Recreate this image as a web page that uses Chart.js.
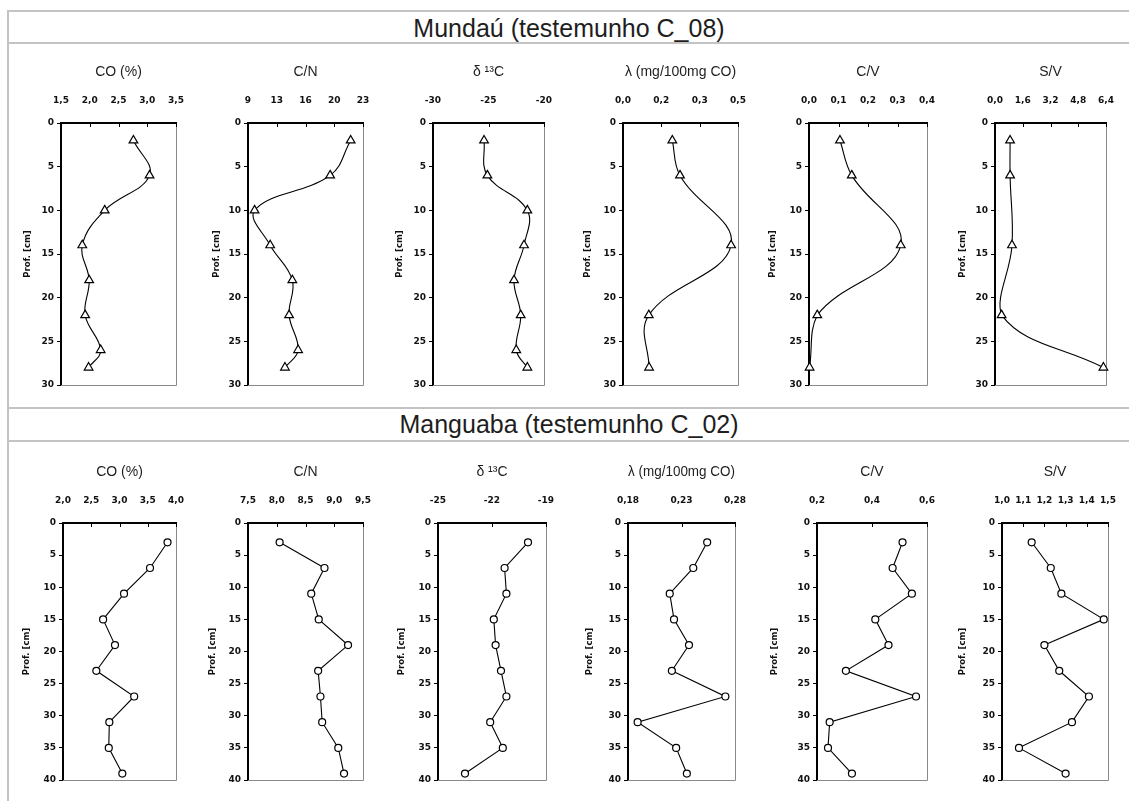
<!DOCTYPE html>
<html>
<head>
<meta charset="utf-8">
<script src="https://cdn.jsdelivr.net/npm/chart.js@4.4.0/dist/chart.umd.min.js"></script>
<style>
  body { margin: 0; width: 1129px; height: 801px; overflow: hidden; position: relative; background: #fff; }
  .vline { position: absolute; left: 7px; top: 10px; width: 2px; bottom: 0; background: #c3c3c3; }
  .hline { position: absolute; left: 7px; right: 0; height: 2px; background: #c3c3c3; }
  .bar { position: absolute; left: 9px; right: 0; text-align: center; font: 25px "Liberation Sans", Arial, sans-serif; color: #1e1e1e; line-height: 30px; }
  canvas { position: absolute; }
</style>
</head>
<body>
<div class="vline"></div>
<div class="hline" style="top:10px"></div>
<div class="bar" style="top:13px">Mundaú (testemunho C_08)</div>
<div class="hline" style="top:42px"></div>
<div class="hline" style="top:407px"></div>
<div class="bar" style="top:409px">Manguaba (testemunho C_02)</div>
<div class="hline" style="top:440px"></div>

<script>
// ── Mundaú core (C_08), depth in cm ─────────────────────────────────
const depthM  = [2, 6, 10, 14, 18, 22, 26, 28];
const depthM5 = [2, 6, 14, 22, 28];
const coM     = [2.76, 3.04, 2.26, 1.87, 1.99, 1.92, 2.19, 1.98];
const cnM     = [21.5, 19.0, 9.8, 11.7, 14.4, 14.0, 15.1, 13.5];
const d13cM   = [-25.4, -25.1, -21.5, -21.8, -22.7, -22.1, -22.5, -21.5];
const lambdaM = [0.193, 0.223, 0.423, 0.101, 0.102];
const cvM     = [0.105, 0.145, 0.311, 0.028, 0.002];
const svM     = [0.87, 0.87, 0.98, 0.38, 6.25];

// ── Manguaba core (C_02) ────────────────────────────────────────────
const depthG  = [3, 7, 11, 15, 19, 23, 27, 31, 35, 39];
const coG     = [3.85, 3.54, 3.08, 2.71, 2.92, 2.59, 3.26, 2.82, 2.81, 3.05];
const cnG     = [8.05, 8.83, 8.60, 8.73, 9.24, 8.72, 8.76, 8.79, 9.07, 9.17];
const d13cG   = [-20.0, -21.3, -21.2, -21.9, -21.8, -21.5, -21.2, -22.1, -21.4, -23.5];
const lambdaG = [0.254, 0.241, 0.219, 0.223, 0.237, 0.221, 0.271, 0.189, 0.225, 0.235];
const cvG     = [0.511, 0.475, 0.545, 0.412, 0.46, 0.305, 0.56, 0.246, 0.24, 0.327];
const svG     = [1.14, 1.23, 1.28, 1.48, 1.20, 1.27, 1.41, 1.33, 1.08, 1.30];

// ── panel titles and x-axis tick labels / ranges ────────────────────
const titles = ['CO (%)', 'C/N', 'δ ¹³C', 'λ (mg/100mg CO)', 'C/V', 'S/V'];
const depthTitle = 'Prof. [cm]';

const ticksM  = [['1,5','2,0','2,5','3,0','3,5'], ['9','13','16','20','23'], ['-30','-25','-20'],
                 ['0,0','0,2','0,3','0,5'], ['0,0','0,1','0,2','0,3','0,4'], ['0,0','1,6','3,2','4,8','6,4']];
const rangesM = [[1.5, 3.5], [9, 23], [-30, -20], [0, 0.45], [0, 0.4], [0, 6.4]];
const ticksG  = [['2,0','2,5','3,0','3,5','4,0'], ['7,5','8,0','8,5','9,0','9,5'], ['-25','-22','-19'],
                 ['0,18','0,23','0,28'], ['0,2','0,4','0,6'], ['1,0','1,1','1,2','1,3','1,4','1,5']];
const rangesG = [[2, 4], [7.5, 9.5], [-25, -19], [0.18, 0.28], [0.2, 0.6], [1, 1.5]];

// ── layout (plot left/right in page px, gap of the depth label) ─────
const rows = [
  { axisY: 123, bottom: 385, depthMax: 30, marker: 'triangle', radius: 5, tension: 0.4,
    plots: [[61,176],[248,363],[433,544],[623,738],[809,927],[995,1106]],
    gaps:  [33, 31, 33, 35, 36, 32],
    depths: [depthM, depthM, depthM, depthM5, depthM5, depthM5],
    values: [coM, cnM, d13cM, lambdaM, cvM, svM],
    ticks: ticksM, ranges: rangesM },
  { axisY: 523, bottom: 780, depthMax: 40, marker: 'circle', radius: 3.5, tension: 0,
    plots: [[63,176],[248,363],[438,546],[628,735],[817,927],[1002,1108]],
    gaps:  [36, 35, 36, 38, 42, 39],
    depths: [depthG, depthG, depthG, depthG, depthG, depthG],
    values: [coG, cnG, d13cG, lambdaG, cvG, svG],
    ticks: ticksG, ranges: rangesG }
];

const WY = 48, PAD_R = 14, PAD_B = 12, HX = 70;
const tickFont = { family: 'DejaVu Sans', size: 9, weight: 'bold' };

// grey plot-area frame (right/bottom) and inward ticks on the top axis
const frame = {
  id: 'frame',
  beforeDatasetsDraw(chart) {
    const { ctx, chartArea: a, scales: { x } } = chart;
    ctx.save();
    ctx.strokeStyle = '#8a8a8a';
    ctx.lineWidth = 1;
    ctx.beginPath();
    ctx.moveTo(a.left, Math.round(a.bottom) + 0.5);
    ctx.lineTo(Math.round(a.right) + 0.5, Math.round(a.bottom) + 0.5);
    ctx.lineTo(Math.round(a.right) + 0.5, a.top);
    ctx.stroke();
    ctx.strokeStyle = '#000';
    ctx.beginPath();
    x.ticks.forEach(t => {
      const px = Math.round(x.getPixelForValue(t.value)) + 0.5;
      ctx.moveTo(px, a.top);
      ctx.lineTo(px, a.top + 4);
    });
    ctx.stroke();
    ctx.restore();
  }
};

function makePanel(row, i) {
  const [left, right] = row.plots[i];
  const labels = row.ticks[i];
  const [lo, hi] = row.ranges[i];
  const depths = row.depths[i];
  const w = WY + (right - left) + PAD_R;
  const h = HX + (row.bottom - row.axisY) + PAD_B;

  const canvas = document.createElement('canvas');
  canvas.width = w; canvas.height = h;
  canvas.style.left = (left - WY) + 'px';
  canvas.style.top = (row.axisY - HX) + 'px';
  canvas.style.width = w + 'px';
  canvas.style.height = h + 'px';
  document.body.appendChild(canvas);

  new Chart(canvas, {
    type: 'scatter',
    data: {
      datasets: [{
        data: row.values[i].map((v, k) => ({ x: v, y: depths[k] })),
        showLine: true,
        borderColor: '#000',
        borderWidth: 1.1,
        tension: row.tension,
        pointStyle: row.marker,
        pointRadius: row.radius,
        pointBackgroundColor: '#fff',
        pointBorderColor: '#000',
        pointBorderWidth: 1.2,
        clip: false,
      }]
    },
    options: {
      responsive: false,
      animation: false,
      events: [],
      layout: { padding: { left: 0, right: PAD_R, top: 0, bottom: PAD_B } },
      plugins: { legend: { display: false }, tooltip: { enabled: false } },
      scales: {
        x: {
          type: 'linear', position: 'top', min: lo, max: hi,
          afterBuildTicks: s => {
            s.ticks = labels.map((_, k) => ({ value: lo + k * (hi - lo) / (labels.length - 1) }));
          },
          afterFit: s => { s.height = HX; s.paddingLeft = 0; s.paddingRight = 0; },
          ticks: { callback: (v, k) => labels[k], padding: 17, maxRotation: 0, autoSkip: false,
                   color: '#111', font: tickFont },
          grid: { display: false, drawTicks: false, tickLength: 0 },
          border: { display: true, color: '#000', width: 2 },
          title: { display: true, text: titles[i], padding: { top: 11, bottom: 0 }, color: '#1e1e1e',
                   font: { family: 'Liberation Sans', size: 14 } },
        },
        y: {
          type: 'linear', reverse: true, min: 0, max: row.depthMax,
          afterFit: s => { s.width = WY; s.paddingTop = 0; s.paddingBottom = 0; },
          ticks: { stepSize: 5, padding: 3, color: '#111', font: tickFont },
          grid: { drawOnChartArea: false, drawTicks: true, tickLength: 4, color: '#000' },
          border: { display: true, color: '#000', width: 2 },
          title: { display: true, text: depthTitle, padding: { top: WY - row.gaps[i] - 5, bottom: 0 },
                   color: '#111', font: { family: 'DejaVu Sans', size: 8.5, weight: 'bold' } },
        }
      }
    },
    plugins: [frame]
  });
}

rows.forEach(row => row.plots.forEach((_, i) => makePanel(row, i)));
</script>
</body>
</html>
